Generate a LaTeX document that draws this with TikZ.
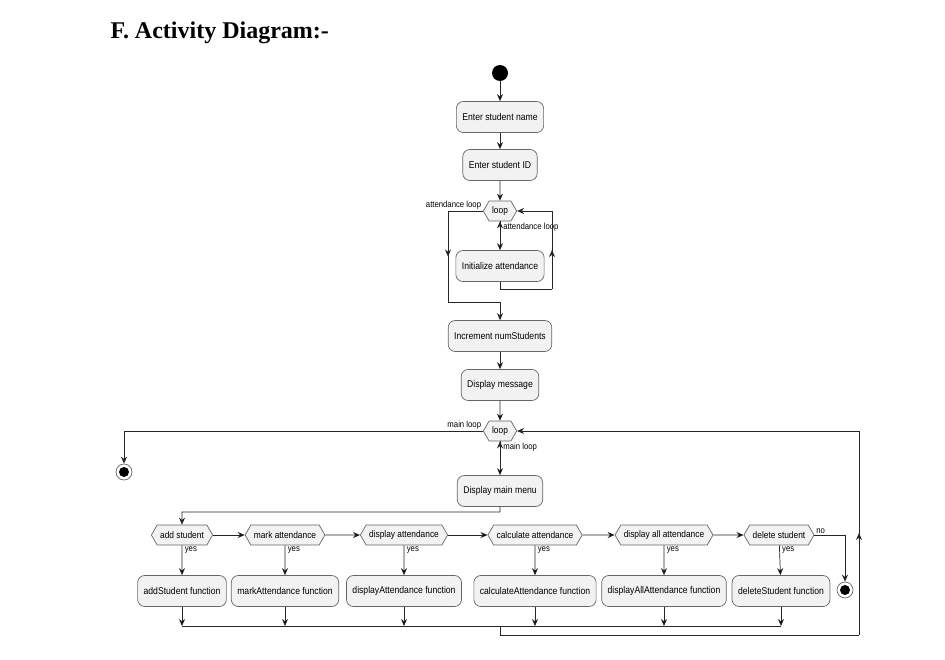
\documentclass[tikz,border=0pt]{standalone}
\usepackage{fontspec}
\setmainfont{Liberation Serif}
\newfontfamily\umlfont[FakeStretch=0.88]{Liberation Sans}
\usetikzlibrary{shapes.symbols,arrows.meta,decorations.markings}

\tikzset{
  act/.style={rectangle, rounded corners=7pt, draw=black!60, fill=gray!10, line width=0.7pt,
    minimum height=31pt, inner xsep=6pt, font=\umlfont\fontsize{9.8}{10}\selectfont},
  choice/.style={signal, signal to=west and east, signal pointer angle=120, line width=0.7pt,
    draw=black!60, fill=gray!10, minimum height=20pt, inner xsep=3pt, inner ysep=2pt,
    font=\umlfont\fontsize{9.5}{10}\selectfont},
  lbl/.style={font=\umlfont\fontsize{8.8}{9}\selectfont, inner sep=1.5pt},
  flow/.style={draw=black!85, line width=0.7pt, -{Stealth[length=7pt,width=6pt]}},
  wire/.style={draw=black!85, line width=0.7pt},
  midarrow/.style={postaction={decorate}, decoration={markings,
    mark=at position 0.5 with {\arrow{Stealth[length=7pt,width=6pt]}}}},
}

\begin{document}
\begin{tikzpicture}[x=1pt,y=-1pt]

      \useasboundingbox (0,0) rectangle (945,659);

      \node (0) [anchor=west, font=\bfseries\fontsize{24}{28}\selectfont] at (107,33) {F. Activity Diagram:-};

      % start, first loop
      \node (1) [circle, fill=black, minimum size=16pt, inner sep=0pt] at (500,73) {};
      \node (2) [act] at (500,117) {Enter student name};
      \node (3) [act] at (500,165) {Enter student ID};
      \node (4) [choice] at (500,211) {loop};
      \node (5) [act] at (500,266) {Initialize attendance};
      \node (6) [act] at (500,336) {Increment numStudents};
      \node (7) [act] at (500,385) {Display message};

      % main loop
      \node (8) [choice] at (500,431) {loop};
      \node (9) [circle, draw=black!60, line width=0.7pt, fill=white, minimum size=16pt, inner sep=0pt] at (124,472) {};
      \node (9i) [circle, fill=black, minimum size=10pt, inner sep=0pt] at (9) {};
      \node (10) [act] at (500,491) {Display main menu};

      \begin{scope}[every node/.style={choice}]
        \node (11) at (182,535) {add student};
        \node (12) at (285,535) {mark attendance};
        \node (13) at (404,535) {display attendance};
        \node (14) at (535,535) {calculate attendance};
        \node (15) at (664,535) {display all attendance};
        \node (16) at (779,535) {delete student};
      \end{scope}

      \begin{scope}[every node/.style={act}]
        \node (17) at (182,591) {addStudent function};
        \node (18) at (285,591) {markAttendance function};
        \node (19) at (404,591) {displayAttendance function};
        \node (20) at (535,591) {calculateAttendance function};
        \node (21) at (664,591) {displayAllAttendance function};
        \node (22) at (781,591) {deleteStudent function};
      \end{scope}

      \node (23) [circle, draw=black!60, line width=0.7pt, fill=white, minimum size=16pt, inner sep=0pt] at (845,590) {};
      \node (23i) [circle, fill=black, minimum size=10pt, inner sep=0pt] at (23) {};

      % corner points
      \coordinate (a1) at (448,211);
      \coordinate (a2) at (448,302);
      \coordinate (a3) at (500,302);
      \coordinate (b1) at (552,289);
      \coordinate (b2) at (552,211);
      \coordinate (m1) at (124,431);
      \coordinate (m2) at (500,512);
      \coordinate (m3) at (182,512);
      \coordinate (n1) at (845,535);
      \coordinate (j1) at (182,626);
      \coordinate (j2) at (781,626);
      \coordinate (j3) at (500,626);
      \coordinate (j4) at (500,635);
      \coordinate (j5) at (859,635);
      \coordinate (j6) at (859,431);

      \path[flow] (1) edge (2);
      \path[flow] (2) edge (3);
      \path[flow] (3) edge (4);
      \path[flow] (4.south) edge node[lbl, pos=0, anchor=north west, xshift=1.5pt] {attendance loop} (5);
      \path[wire] (5.south) |- (b1);
      \path[wire, midarrow] (b1) -- (b2);
      \path[flow] (b2) -- (4.east);
      \path[wire] (4.west) -- node[lbl, pos=0, anchor=south east] {attendance loop} (a1);
      \path[wire, midarrow] (a1) -- (a2);
      \path[wire] (a2) -- (a3);
      \path[flow] (a3) -- (6);
      \path[flow] (6) edge (7);
      \path[flow] (7) edge (8);
      \path[flow] (8.west) -- node[lbl, pos=0, anchor=south east] {main loop} (m1) -- (9);
      \path[flow] (8.south) edge node[lbl, pos=0, anchor=north west, xshift=1.5pt] {main loop} (10);
      \path[flow] (10.south) -- (m2) -- (m3) -- (11);

      \path[flow] (11) edge (12);
      \path[flow] (12) edge (13);
      \path[flow] (13) edge (14);
      \path[flow] (14) edge (15);
      \path[flow] (15) edge (16);
      \path[flow] (16.east) -- node[lbl, pos=0, anchor=south west] {no} (n1) -- (23);

      \begin{scope}[every node/.style={lbl, pos=0, anchor=north west, xshift=1pt}]
        \path[flow] (11) edge node {yes} (17);
        \path[flow] (12) edge node {yes} (18);
        \path[flow] (13) edge node {yes} (19);
        \path[flow] (14) edge node {yes} (20);
        \path[flow] (15) edge node {yes} (21);
        \path[flow] (16) edge node {yes} (22);
      \end{scope}

      \path[flow] (17) edge (17 |- j1);
      \path[flow] (18) edge (18 |- j1);
      \path[flow] (19) edge (19 |- j1);
      \path[flow] (20) edge (20 |- j1);
      \path[flow] (21) edge (21 |- j1);
      \path[flow] (22) edge (22 |- j1);
      \path[wire] (j1) -- (j2);
      \path[wire] (j3) -- (j4) -- (j5);
      \path[wire, midarrow] (j5) -- (j6);
      \path[flow] (j6) -- (8.east);

    \end{tikzpicture}
\end{document}
